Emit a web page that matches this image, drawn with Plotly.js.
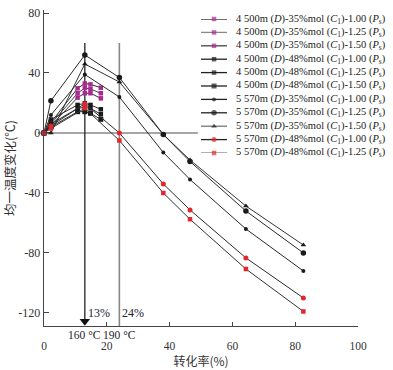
<!DOCTYPE html>
<html><head><meta charset="utf-8">
<script src="https://cdn.plot.ly/plotly-3.0.1.min.js"></script>
<style>html,body{margin:0;padding:0;background:#fff}#chart{width:393px;height:370px}</style>
</head><body><div id="chart"></div>
<script>
// ---- data ----
const x4500 = [0, 2.2, 10.7, 13, 14.8, 18.1];
const y4500_35_100 = [0, 7, 29.8, 33, 32.4, 30.2];
const y4500_35_125 = [0, 6, 26.5, 30, 29.3, 26.5];
const y4500_35_150 = [0, 5, 23.6, 26.5, 26.5, 23.1];
const y4500_48_100 = [0, 9, 18.7, 19.8, 18.7, 15.8];
const y4500_48_125 = [0, 6, 16.4, 17.1, 16.4, 12.5];
const y4500_48_150 = [0, 4, 14.2, 14.2, 13.1, 9.1];
const x5570 = [0, 2.2, 13, 24, 38, 46.5, 64.3, 82.6];
const y5570_35_100 = [0, 12, 39, 24, -13, -31, -64, -92];
const y5570_35_125 = [0, 21.5, 52, 37, -1, -19, -52, -80];
const y5570_35_150 = [0, 0, 46, 34, -1, -18, -48.7, -74.7];
const y5570_48_100 = [0, 4.7, 19.5, 0, -34, -51.3, -83.3, -110];
const y5570_48_125 = [0, 3, 16.5, -5, -40, -57.5, -90.7, -119];
const seriesNames = [
  '4 500m (<i>D</i>)-35%mol (<i>C</i><sub>1</sub>)-1.00 (<i>P</i><sub>s</sub>)',
  '4 500m (<i>D</i>)-35%mol (<i>C</i><sub>1</sub>)-1.25 (<i>P</i><sub>s</sub>)',
  '4 500m (<i>D</i>)-35%mol (<i>C</i><sub>1</sub>)-1.50 (<i>P</i><sub>s</sub>)',
  '4 500m (<i>D</i>)-48%mol (<i>C</i><sub>1</sub>)-1.00 (<i>P</i><sub>s</sub>)',
  '4 500m (<i>D</i>)-48%mol (<i>C</i><sub>1</sub>)-1.25 (<i>P</i><sub>s</sub>)',
  '4 500m (<i>D</i>)-48%mol (<i>C</i><sub>1</sub>)-1.50 (<i>P</i><sub>s</sub>)',
  '5 570m (<i>D</i>)-35%mol (<i>C</i><sub>1</sub>)-1.00 (<i>P</i><sub>s</sub>)',
  '5 570m (<i>D</i>)-35%mol (<i>C</i><sub>1</sub>)-1.25 (<i>P</i><sub>s</sub>)',
  '5 570m (<i>D</i>)-35%mol (<i>C</i><sub>1</sub>)-1.50 (<i>P</i><sub>s</sub>)',
  '5 570m (<i>D</i>)-48%mol (<i>C</i><sub>1</sub>)-1.00 (<i>P</i><sub>s</sub>)',
  '5 570m (<i>D</i>)-48%mol (<i>C</i><sub>1</sub>)-1.25 (<i>P</i><sub>s</sub>)'
];
const xTicks = [0, 20, 40, 60, 80, 100];
const yTicks = [-120, -80, -40, 0, 40, 80];
const markLines = [13, 24];
const markPct = ['13%', '24%'];
const markTemp = ['160 °C', '190 °C'];
const xTitle = '转化率(%)';
const yTitle = '均一温度变化(℃)';

// ---- styles ----
const MAG = '#a92a8f', RED = '#e3262e', BLK = '#1a1a1a';
const seriesX = [x4500, x4500, x4500, x4500, x4500, x4500, x5570, x5570, x5570, x5570, x5570];
const seriesY = [y4500_35_100, y4500_35_125, y4500_35_150, y4500_48_100, y4500_48_125, y4500_48_150,
                 y5570_35_100, y5570_35_125, y5570_35_150, y5570_48_100, y5570_48_125];
const styles = [
  {lc: '#222', pc: '#2a2a2a', mc: MAG, sym: 'square', ms: 4.5},
  {lc: '#888', pc: '#444', mc: MAG, sym: 'square', ms: 4.5},
  {lc: '#444', pc: '#333', mc: MAG, sym: 'square', ms: 4.5},
  {lc: '#222', pc: '#2a2a2a', mc: BLK, sym: 'square', ms: 4.5},
  {lc: '#222', pc: '#2a2a2a', mc: BLK, sym: 'square', ms: 4.5},
  {lc: '#222', pc: '#2a2a2a', mc: BLK, sym: 'square', ms: 5},
  {lc: '#222', pc: '#2a2a2a', mc: BLK, sym: 'circle', ms: 4},
  {lc: '#222', pc: '#2a2a2a', mc: BLK, sym: 'circle', ms: 5.5},
  {lc: '#777', pc: '#333', mc: BLK, sym: 'triangle-up', ms: 5},
  {lc: '#222', pc: '#2a2a2a', mc: RED, sym: 'circle', ms: 5},
  {lc: '#888', pc: '#333', mc: RED, sym: 'square', ms: 4.5}
];

const traces = [];
const annotations = [];
const SERIF = 'Liberation Serif, Times New Roman, serif';

seriesY.forEach((ys, i) => {
  const s = styles[i];
  traces.push({
    x: seriesX[i], y: ys, type: 'scatter', mode: 'lines+markers', showlegend: false,
    line: {color: s.pc, width: 1},
    marker: {color: s.mc, symbol: s.sym, size: s.ms, line: {width: 0}},
    cliponaxis: false, hoverinfo: 'skip'
  });
  // custom legend sample (on hidden axes)
  traces.push({
    x: [0, 0.5, 1], y: [i, i, i], xaxis: 'x2', yaxis: 'y2', type: 'scatter',
    mode: 'lines+markers', showlegend: false,
    line: {color: s.lc, width: 1.3},
    marker: {color: s.mc, symbol: s.sym, size: [0, s.ms, 0], line: {width: 0}},
    cliponaxis: false, hoverinfo: 'skip'
  });
  annotations.push({
    xref: 'paper', yref: 'y2', x: 0.605, y: i, xanchor: 'left', yanchor: 'middle',
    text: seriesNames[i], showarrow: false, font: {family: SERIF, size: 10.5, color: '#1a1a1a'}
  });
});

// arrow marker at bottom of the 13% line
traces.push({x: [markLines[0]], y: [-125.5], type: 'scatter', mode: 'markers', showlegend: false,
  marker: {symbol: 'triangle-down', size: 9, color: '#111'}, cliponaxis: false, hoverinfo: 'skip'});

markLines.forEach((v, i) => {
  annotations.push({xref: 'x', yref: 'y', x: v, y: -120, xanchor: 'left', yanchor: 'middle',
    xshift: 1, text: markPct[i], showarrow: false, font: {family: SERIF, size: 12, color: '#223'}});
  annotations.push({xref: 'x', yref: 'paper', x: v, y: 0, yanchor: 'top', xanchor: 'center',
    yshift: -1, text: markTemp[i], showarrow: false, font: {family: SERIF, size: 11.5, color: '#223'}});
});

const shapes = [
  {type: 'line', xref: 'paper', yref: 'y', x0: -0.019, x1: 1, y0: 0, y1: 0, layer: 'below',
   line: {color: '#888', width: 1.6}},
  {type: 'rect', xref: 'paper', yref: 'paper', x0: 0.49, x1: 1.2, y0: 0.52, y1: 0.995, layer: 'below',
   fillcolor: '#fff', line: {width: 0}},
  {type: 'line', xref: 'x', yref: 'y', x0: markLines[0], x1: markLines[0], y0: 60, y1: -126, layer: 'below',
   line: {color: '#333', width: 1.4}},
  {type: 'line', xref: 'x', yref: 'y', x0: markLines[1], x1: markLines[1], y0: 60, y1: -128.7, layer: 'below',
   line: {color: '#888', width: 1.6}}
];

const layout = {
  width: 393, height: 370,
  margin: {l: 44, r: 35, t: 10, b: 44},
  paper_bgcolor: '#fff', plot_bgcolor: '#fff',
  showlegend: false,
  font: {family: SERIF, color: '#333'},
  xaxis: {
    range: [0, 100], tickvals: xTicks, ticktext: xTicks.map(String),
    showline: true, linecolor: '#444', linewidth: 1.4, ticks: 'inside', ticklen: 4, tickcolor: '#444',
    showgrid: false, zeroline: false, ticklabelstandoff: 9,
    tickfont: {family: SERIF, size: 11.5, color: '#333'},
    title: {text: xTitle, font: {family: 'Noto Sans CJK SC', size: 12, color: '#333'}, standoff: 3}
  },
  yaxis: {
    range: [-128.7, 82], tickvals: yTicks, ticktext: yTicks.map(String),
    showline: true, linecolor: '#444', linewidth: 1.4, ticks: 'inside', ticklen: 5, tickcolor: '#444',
    showgrid: false, zeroline: false,
    tickfont: {family: SERIF, size: 12, color: '#333'},
    title: {text: yTitle, font: {family: 'Noto Sans CJK SC', size: 12.5, color: '#333'}, standoff: 2}
  },
  xaxis2: {domain: [0.5, 0.583], range: [0, 1], anchor: 'y2', visible: false, fixedrange: true},
  yaxis2: {domain: [0.5475, 0.9715], range: [10, 0], anchor: 'x2', visible: false, fixedrange: true},
  shapes: shapes,
  annotations: annotations
};

Plotly.newPlot('chart', traces, layout, {staticPlot: true, displayModeBar: false});
</script>
</body></html>
